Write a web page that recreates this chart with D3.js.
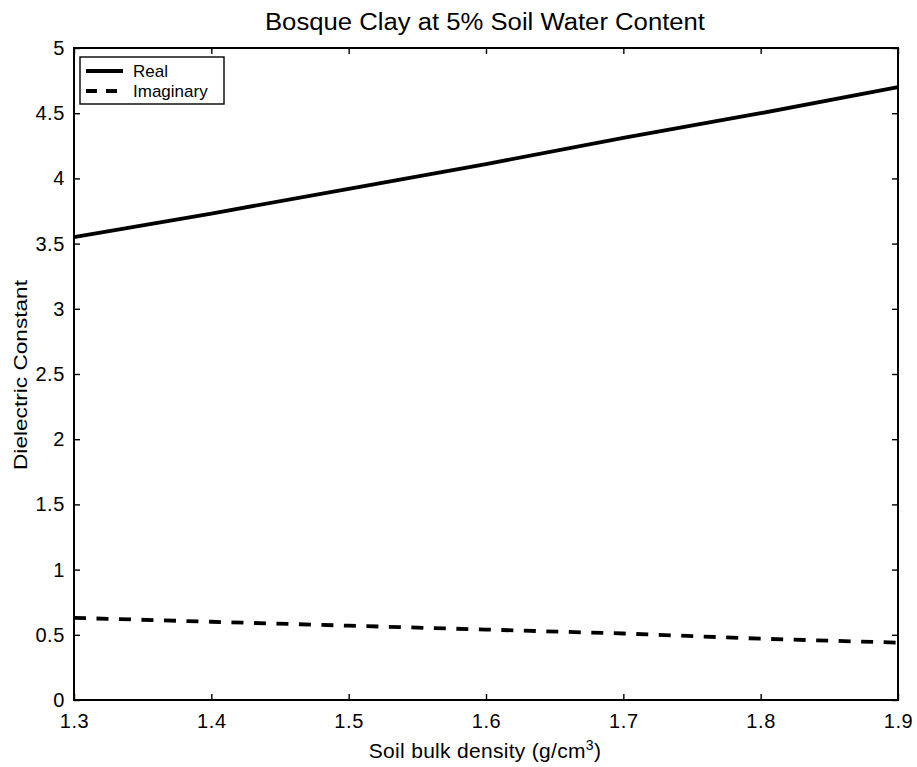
<!DOCTYPE html>
<html>
<head>
<meta charset="utf-8">
<script src="https://cdn.jsdelivr.net/npm/d3@7/dist/d3.min.js"></script>
<style>
  html, body { margin: 0; padding: 0; background: #fff; }
  svg { display: block; }
  text { font-family: "Liberation Sans", Arial, Helvetica, sans-serif; fill: #000; }
</style>
</head>
<body>
<svg id="chart" width="917" height="767"></svg>
<script>
// Bulk density samples (g/cm^3)
const density = [1.3, 1.4, 1.5, 1.6, 1.7, 1.8, 1.9];
// Real part of the dielectric constant
const realPart = [3.55, 3.73, 3.92, 4.11, 4.31, 4.50, 4.70];
// Imaginary part of the dielectric constant
const imagPart = [0.63, 0.60, 0.57, 0.54, 0.51, 0.47, 0.44];

const xTicks = [1.3, 1.4, 1.5, 1.6, 1.7, 1.8, 1.9];
const yTicks = [0, 0.5, 1, 1.5, 2, 2.5, 3, 3.5, 4, 4.5, 5];
const seriesNames = ["Real", "Imaginary"];

const svg = d3.select("#chart");
const plotL = 74, plotR = 898, plotT = 48, plotB = 700;

const x = d3.scaleLinear().domain([1.3, 1.9]).range([plotL, plotR]);
const y = d3.scaleLinear().domain([0, 5]).range([plotB, plotT]);

// Title
svg.append("text")
  .attr("x", 485).attr("y", 30)
  .attr("text-anchor", "middle")
  .attr("textLength", 440).attr("lengthAdjust", "spacingAndGlyphs")
  .style("font-size", "23px")
  .text("Bosque Clay at 5% Soil Water Content");

// Axes with inward ticks
const tick = 6;
svg.append("g").attr("transform", `translate(0,${plotB})`)
  .call(d3.axisBottom(x).tickValues(xTicks).tickSize(-tick).tickPadding(14).tickFormat(d3.format(".1f")))
  .call(g => g.select(".domain").remove());
svg.append("g").attr("transform", `translate(0,${plotT})`)
  .call(d3.axisTop(x).tickValues(xTicks).tickSize(-tick).tickFormat(""))
  .call(g => g.select(".domain").remove());
svg.append("g").attr("transform", `translate(${plotL},0)`)
  .call(d3.axisLeft(y).tickValues(yTicks).tickSize(-tick).tickPadding(9).tickFormat(d3.format("~g")))
  .call(g => g.select(".domain").remove());
svg.append("g").attr("transform", `translate(${plotR},0)`)
  .call(d3.axisRight(y).tickValues(yTicks).tickSize(-tick).tickFormat(""))
  .call(g => g.select(".domain").remove());

svg.selectAll(".tick line").attr("stroke", "#000").attr("stroke-width", 1.4);
svg.selectAll(".tick text")
  .style("font-size", "20px")
  .style("letter-spacing", "0.6px")
  .style("font-family", "'Liberation Sans', Arial, sans-serif");

// Plot frame
svg.append("rect")
  .attr("x", plotL).attr("y", plotT)
  .attr("width", plotR - plotL).attr("height", plotB - plotT)
  .attr("fill", "none").attr("stroke", "#000").attr("stroke-width", 2);

// Axis labels
const xl = svg.append("text")
  .attr("x", 485).attr("y", 758)
  .attr("text-anchor", "middle")
  .style("font-size", "21px")
  .style("letter-spacing", "0.3px");
xl.append("tspan").text("Soil bulk density (g/cm");
xl.append("tspan").attr("dy", -8).style("font-size", "14px").text("3");
xl.append("tspan").attr("dy", 8).text(")");

svg.append("text")
  .attr("transform", `translate(27,375) rotate(-90)`)
  .attr("text-anchor", "middle")
  .attr("textLength", 190).attr("lengthAdjust", "spacingAndGlyphs")
  .style("font-size", "18px")
  .text("Dielectric Constant");

// Series lines
const line = d3.line().x((d, i) => x(density[i])).y(d => y(d));
svg.append("path").datum(realPart)
  .attr("d", line).attr("fill", "none")
  .attr("stroke", "#000").attr("stroke-width", 3.8);
svg.append("path").datum(imagPart)
  .attr("d", line).attr("fill", "none")
  .attr("stroke", "#000").attr("stroke-width", 3.8)
  .attr("stroke-dasharray", "12,10.5");

// Legend
const lg = svg.append("g");
lg.append("rect")
  .attr("x", 80).attr("y", 57).attr("width", 144).attr("height", 47)
  .attr("fill", "#fff").attr("stroke", "#000").attr("stroke-width", 1.4);
const dashes = [null, "11,9"];
seriesNames.forEach((name, i) => {
  const yy = 71 + i * 20;
  lg.append("line")
    .attr("x1", 86).attr("x2", 123).attr("y1", yy).attr("y2", yy)
    .attr("stroke", "#000").attr("stroke-width", 3.8)
    .attr("stroke-dasharray", dashes[i]);
  lg.append("text")
    .attr("x", 133).attr("y", yy + 5.5)
    .style("font-size", "17px")
    .text(name);
});
</script>
</body>
</html>
